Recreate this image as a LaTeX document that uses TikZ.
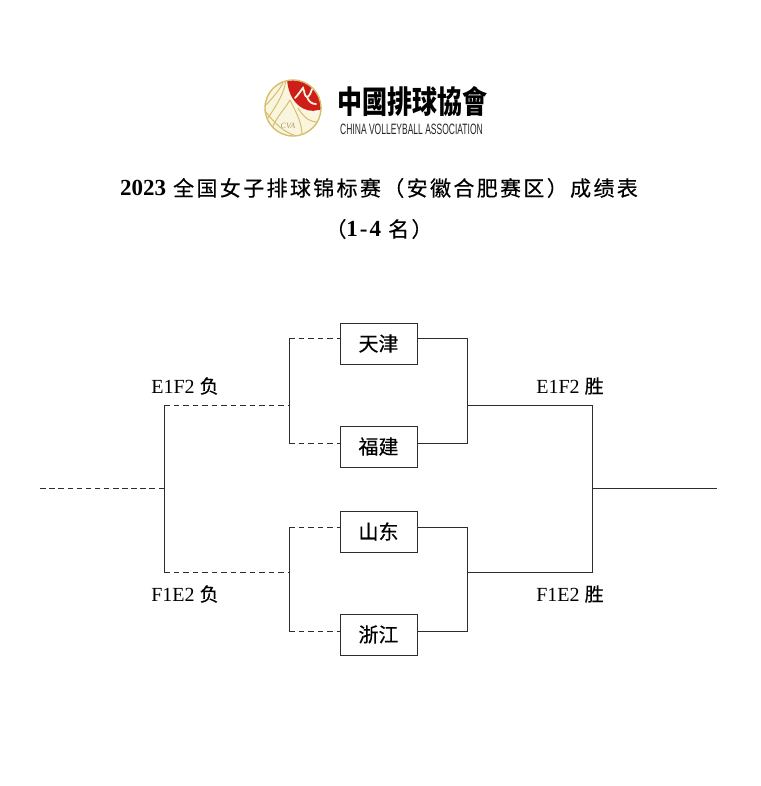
\documentclass[tikz,border=0pt]{standalone}
\usepackage{fontspec}
\setmainfont{Liberation Serif}
\setsansfont{Liberation Sans}
\newfontfamily\cjk[FakeBold=0.3]{Noto Sans CJK SC}
\newfontfamily\cjkspaced[FakeBold=0.3,LetterSpace=11.2]{Noto Sans CJK SC}
\newfontfamily\cjktc{Noto Sans CJK TC}
\definecolor{ballgold}{RGB}{214,190,110}
\definecolor{ballfill}{RGB}{250,245,222}
\definecolor{ballred}{RGB}{205,30,25}
\definecolor{linegrey}{RGB}{45,45,45}
\tikzset{
  x=1pt,y=-1pt,
  team/.style={draw=linegrey,line width=0.9pt,minimum width=77pt,minimum height=41pt,inner sep=0pt,font=\cjk\fontsize{20}{20}\selectfont},
  solidline/.style={draw=linegrey,line width=0.9pt},
  dashline/.style={draw=linegrey,line width=0.9pt,dash pattern=on 5.5pt off 4pt},
  longdash/.style={draw=linegrey,line width=0.9pt,dash pattern=on 5.5pt off 3.6pt},
  tag/.style={inner sep=0pt,font=\fontsize{20}{20}\selectfont},
  titletext/.style={inner sep=0pt,font=\cjkspaced\fontsize{21}{21}\selectfont},
}
\newcommand{\numpart}[1]{{\rmfamily\bfseries\fontsize{23}{23}\selectfont #1}}
\begin{document}
\begin{tikzpicture}
\useasboundingbox (0,0) rectangle (760,786);
\fill[white] (0,0) rectangle (760,786);
% logo
\fill[ballfill] (293,108) circle (28);
\begin{scope}
\clip (293,108) circle (28);
\fill[ballred] (287,78) -- (325,78) -- (325,110) -- (318,110) .. controls (306,114) and (288,104) .. (287,78) -- cycle;
\draw[ballgold,line width=1pt] (268,118) .. controls (280,100) and (284,92) .. (286,80);
\draw[ballgold,line width=1pt] (266,105) .. controls (278,92) and (282,86) .. (284,80);
\draw[ballgold,line width=1pt] (272,128) .. controls (278,115) and (284,110) .. (290,100);
\draw[ballgold,line width=1pt] (266,112) .. controls (276,125) and (284,132) .. (296,136);
\draw[ballgold,line width=1pt] (290,100) .. controls (298,116) and (302,124) .. (302,136);
\draw[ballgold,line width=1pt] (298,108) .. controls (304,118) and (310,122) .. (318,122);
\end{scope}
\draw[ballgold,line width=1.4pt] (293,108) circle (28);
\draw[ballfill,line width=1.8pt,line cap=round] (295,98) .. controls (299,94) and (301,90) .. (303,88) .. controls (305,92) and (304,96) .. (307,97) .. controls (310,96) and (311,92) .. (312,89);
\draw[ballfill,line width=1.8pt,line cap=round] (307,97) .. controls (309,102) and (312,104) .. (316,104);
\node[inner sep=0pt,text=ballgold!80!black,font=\fontsize{8}{8}\selectfont\itshape] (cva) at (288,126) {CVA};
\node[inner sep=0pt,font=\cjktc\bfseries\fontsize{25}{25}\selectfont] (logocn) at (412.5,102) {\scalebox{1}[1.25]{中國排球協會}};
\node[inner sep=0pt,text=black!85,font=\sffamily\fontsize{15}{15}\selectfont] (logoen) at (411.5,129) {\scalebox{0.567}[1]{CHINA VOLLEYBALL ASSOCIATION}};
% title
\node[titletext] (title1) at (379,188) {\numpart{2023} 全国女子排球锦标赛（安徽合肥赛区）成绩表};
\node[titletext] (title2) at (379,229) {（\numpart{1\kern2pt-\kern2pt4} 名）};
% teams
\node[team] (tj) at (378.5,343.5) {天津};
\node[team] (fj) at (378.5,446.5) {福建};
\node[team] (sd) at (378.5,531.5) {山东};
\node[team] (zj) at (378.5,634.5) {浙江};
% junction coordinates
\coordinate (tjL) at (340,338); \coordinate (fjL) at (340,443);
\coordinate (sdL) at (340,527); \coordinate (zjL) at (340,631);
\coordinate (tjR) at (417,338); \coordinate (fjR) at (417,443);
\coordinate (sdR) at (417,527); \coordinate (zjR) at (417,631);
\coordinate (l1t) at (289,338); \coordinate (l1b) at (289,443); \coordinate (l1m) at (289,405);
\coordinate (l2t) at (289,527); \coordinate (l2b) at (289,631); \coordinate (l2m) at (289,572);
\coordinate (lct) at (164,405); \coordinate (lcb) at (164,572); \coordinate (lcm) at (164,488);
\coordinate (lend) at (40,488);
\coordinate (r1t) at (467,338); \coordinate (r1b) at (467,443); \coordinate (r1m) at (467,405);
\coordinate (r2t) at (467,527); \coordinate (r2b) at (467,631); \coordinate (r2m) at (467,572);
\coordinate (rct) at (592,405); \coordinate (rcb) at (592,572); \coordinate (rcm) at (592,488);
\coordinate (rend) at (717,488);
% left side
\draw[dashline] (l1t) -- (tjL);
\draw[dashline] (l1b) -- (fjL);
\draw[dashline] (l2t) -- (sdL);
\draw[dashline] (l2b) -- (zjL);
\draw[solidline] (l1t) -- (l1b);
\draw[solidline] (l2t) -- (l2b);
\draw[dashline] (lct) -- (l1m);
\draw[dashline] (lcb) -- (l2m);
\draw[solidline] (lct) -- (lcb);
\draw[longdash] (lcm) -- (lend);
% right side
\draw[solidline] (tjR) -- (r1t) -- (r1b) -- (fjR);
\draw[solidline] (sdR) -- (r2t) -- (r2b) -- (zjR);
\draw[solidline] (r1m) -- (rct) -- (rcb) -- (r2m);
\draw[solidline] (rcm) -- (rend);
% labels
\node[tag] (a) at (185,386) {E1F2 {\cjk\fontsize{19}{19}\selectfont 负}};
\node[tag] (b) at (185,594) {F1E2 {\cjk\fontsize{19}{19}\selectfont 负}};
\node[tag] (c) at (570,386) {E1F2 {\cjk\fontsize{19}{19}\selectfont 胜}};
\node[tag] (d) at (570,594) {F1E2 {\cjk\fontsize{19}{19}\selectfont 胜}};
\end{tikzpicture}
\end{document}
